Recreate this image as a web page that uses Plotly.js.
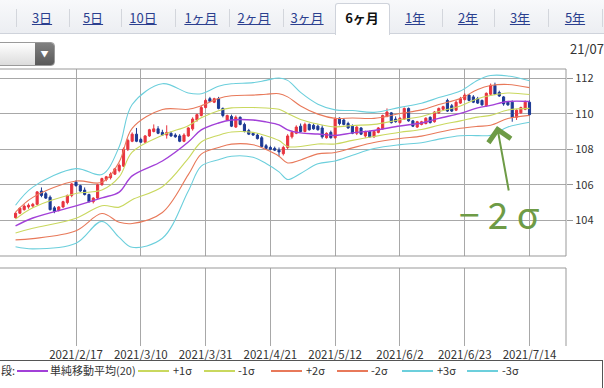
<!DOCTYPE html>
<html><head><meta charset="utf-8">
<script src="https://cdn.plot.ly/plotly-3.0.1.min.js"></script>
<style>
body{margin:0;width:604px;height:388px;overflow:hidden;background:#fff;font-family:"Noto Sans CJK JP","Noto Sans",sans-serif;}
#chart{position:absolute;left:0;top:0;width:604px;height:388px;z-index:1}
#tabbar{position:absolute;left:0;top:0;width:604px;height:33px;background:linear-gradient(#f8f9fb,#eceef2);border-bottom:1px solid #cfd3db;z-index:2}
.tab{position:absolute;top:8px;font-size:13px;color:#2b3f8f;text-decoration:underline;text-align:center;width:60px;line-height:20px;white-space:nowrap}
.sep{position:absolute;top:9px;width:1px;height:18px;background:#d3d6dc}
#active{position:absolute;left:335px;top:3px;width:53px;height:31px;background:#fff;border:1px solid #cfd3db;border-bottom:none;border-radius:3px 3px 0 0}
#dd{position:absolute;left:-6px;top:42px;width:59px;height:22px;border:1px solid #9a9a9a;border-radius:4px;background:linear-gradient(#ffffff,#dcdcdc);z-index:2;overflow:hidden}
#ddbtn{position:absolute;right:0;top:0;width:19px;height:22px;background:linear-gradient(#808080,#595959);color:#fff;font-size:8px;text-align:center;line-height:22px}
#yr{position:absolute;left:570px;top:39px;font-size:13px;color:#333;z-index:2}
#legend{position:absolute;left:-1px;top:360px;width:602px;height:40px;border:1px solid #555;z-index:2;font-size:11px;color:#333}
.lg{position:absolute;top:2px;white-space:nowrap;line-height:14px}
.ll{position:absolute;top:9px;height:1.5px}
</style></head>
<body>
<div id="chart"></div>
<div id="tabbar"></div>
<div id="dd"><div id="ddbtn">▼</div></div>
<div id="yr">21/07</div>
<div id="legend"></div>
<script>
// ---- data ----
const dates = ["2021/1/28","2021/1/29",
"2021/2/1","2021/2/2","2021/2/3","2021/2/4","2021/2/5","2021/2/8","2021/2/9","2021/2/10","2021/2/11","2021/2/12",
"2021/2/15","2021/2/16","2021/2/17","2021/2/18","2021/2/19","2021/2/22","2021/2/23","2021/2/24","2021/2/25","2021/2/26",
"2021/3/1","2021/3/2","2021/3/3","2021/3/4","2021/3/5","2021/3/8","2021/3/9","2021/3/10","2021/3/11","2021/3/12",
"2021/3/15","2021/3/16","2021/3/17","2021/3/18","2021/3/19","2021/3/22","2021/3/23","2021/3/24","2021/3/25","2021/3/26",
"2021/3/29","2021/3/30","2021/3/31","2021/4/1","2021/4/2","2021/4/5","2021/4/6","2021/4/7","2021/4/8","2021/4/9",
"2021/4/12","2021/4/13","2021/4/14","2021/4/15","2021/4/16","2021/4/19","2021/4/20","2021/4/21","2021/4/22","2021/4/23",
"2021/4/26","2021/4/27","2021/4/28","2021/4/29","2021/4/30","2021/5/3","2021/5/4","2021/5/5","2021/5/6","2021/5/7",
"2021/5/10","2021/5/11","2021/5/12","2021/5/13","2021/5/14","2021/5/17","2021/5/18","2021/5/19","2021/5/20","2021/5/21",
"2021/5/24","2021/5/25","2021/5/26","2021/5/27","2021/5/28","2021/5/31","2021/6/1","2021/6/2","2021/6/3","2021/6/4",
"2021/6/7","2021/6/8","2021/6/9","2021/6/10","2021/6/11","2021/6/14","2021/6/15","2021/6/16","2021/6/17","2021/6/18",
"2021/6/21","2021/6/22","2021/6/23","2021/6/24","2021/6/25","2021/6/28","2021/6/29","2021/6/30","2021/7/1","2021/7/2",
"2021/7/5","2021/7/6","2021/7/7","2021/7/8","2021/7/9","2021/7/12","2021/7/13","2021/7/14"];

const open = [104.15,104.40,104.60,104.75,104.80,104.90,105.65,105.50,105.30,104.70,104.55,104.75,105.00,105.40,106.15,105.95,105.70,105.45,105.05,105.25,
106.00,106.30,106.40,106.60,106.80,107.05,108.00,108.45,108.85,108.55,108.40,108.75,109.00,109.15,108.95,108.80,108.90,108.80,108.75,108.45,
108.75,109.15,109.65,109.90,110.35,110.85,110.65,110.85,110.30,109.65,109.85,109.25,109.80,109.40,109.05,108.90,108.80,108.65,108.20,108.10,
108.05,107.95,107.75,108.10,108.70,108.90,109.30,109.00,109.40,109.35,109.30,109.20,108.65,108.95,108.65,109.75,109.65,109.45,109.30,108.90,
109.20,108.75,109.00,108.70,108.95,109.15,109.85,110.05,109.70,109.50,109.70,110.30,109.60,109.25,109.40,109.45,109.80,109.55,110.05,110.25,
110.75,110.45,110.20,110.60,110.80,111.05,110.95,110.85,110.75,110.45,111.10,111.60,111.20,110.95,110.65,110.65,109.80,110.05,110.25,110.65];
const high = [104.45,104.72,104.90,104.95,104.98,105.65,105.85,105.60,105.40,104.80,104.80,105.10,105.45,106.10,106.25,106.00,105.85,105.50,105.30,106.05,
106.40,106.50,106.70,106.95,107.20,108.10,108.60,108.95,109.20,108.65,108.80,109.15,109.40,109.30,109.10,109.35,109.00,108.90,108.85,108.90,
109.25,109.80,110.00,110.45,110.85,110.95,110.90,110.95,110.35,109.95,109.95,109.90,109.85,109.50,109.15,108.95,108.90,108.75,108.30,108.20,
108.15,108.10,108.20,108.85,109.05,109.35,109.45,109.50,109.45,109.45,109.40,109.35,108.95,109.05,109.80,109.80,109.75,109.55,109.40,109.30,
109.25,109.05,109.05,109.05,109.25,109.95,110.30,110.10,109.85,109.80,110.35,110.35,109.65,109.60,109.60,109.80,109.85,110.15,110.35,110.45,
110.85,110.55,110.75,110.95,111.15,111.10,111.05,110.95,110.80,111.20,111.70,111.75,111.30,111.00,110.70,110.75,110.25,110.40,110.75,110.75];
const low = [104.10,104.35,104.55,104.65,104.70,104.85,105.30,105.20,104.55,104.40,104.50,104.70,104.90,105.30,105.90,105.60,105.40,105.00,104.95,105.20,
105.95,106.20,106.30,106.55,106.70,107.00,107.90,108.40,108.40,108.35,108.35,108.70,108.95,108.85,108.75,108.60,108.70,108.65,108.40,108.40,
108.70,109.05,109.55,109.85,110.30,110.65,110.60,110.25,109.80,109.60,109.25,109.20,109.35,108.95,108.80,108.75,108.55,108.10,108.00,107.95,
107.90,107.60,107.65,108.00,108.60,108.85,108.95,108.95,109.05,109.10,109.05,108.60,108.60,108.60,108.60,109.35,109.35,109.15,108.85,108.80,
108.80,108.65,108.65,108.65,108.90,109.10,109.80,109.45,109.50,109.45,109.65,109.55,109.25,109.20,109.35,109.40,109.45,109.50,110.00,110.20,
110.10,110.10,110.15,110.55,110.75,110.70,110.60,110.55,110.45,110.40,111.05,111.05,110.95,110.45,110.45,109.55,109.65,110.00,110.20,109.90];
const close = [104.40,104.68,104.80,104.85,104.90,105.60,105.40,105.25,104.60,104.50,104.75,105.05,105.40,106.05,105.95,105.65,105.45,105.05,105.25,106.00,
106.35,106.45,106.60,106.90,107.10,108.00,108.50,108.85,108.45,108.40,108.75,109.10,109.15,108.90,108.80,108.95,108.75,108.70,108.45,108.80,
109.20,109.70,109.95,110.35,110.75,110.70,110.85,110.30,109.90,109.90,109.30,109.80,109.40,109.00,108.85,108.80,108.60,108.15,108.05,108.00,
107.95,107.85,108.10,108.75,108.95,109.25,109.00,109.40,109.10,109.15,109.10,108.70,108.90,108.65,109.70,109.45,109.40,109.20,108.90,109.25,
108.85,109.00,108.70,109.00,109.20,109.90,110.10,109.50,109.55,109.75,110.30,109.60,109.30,109.55,109.55,109.75,109.50,110.10,110.30,110.40,
110.15,110.15,110.65,110.85,111.05,110.75,110.65,110.60,110.50,111.15,111.60,111.10,111.00,110.55,110.50,109.80,110.20,110.35,110.65,109.95];

// Bollinger band readings (20-day SMA and sigma), read at these dates
const bandDates = ["2021/1/28","2021/2/3","2021/2/17","2021/2/25","2021/3/3","2021/3/8","2021/3/17","2021/3/25","2021/3/30","2021/4/5",
"2021/4/8","2021/4/15","2021/4/20","2021/4/23","2021/4/27","2021/4/30","2021/5/6","2021/5/12","2021/5/18","2021/5/25",
"2021/6/2","2021/6/9","2021/6/15","2021/6/22","2021/6/28","2021/7/1","2021/7/7","2021/7/14"];
const sma20 = [103.68,104.13,104.81,105.26,105.59,106.50,107.34,108.41,109.09,109.48,
109.65,109.65,109.54,109.37,109.09,108.92,108.86,108.78,108.92,109.06,
109.31,109.48,109.74,110.02,110.33,110.47,110.69,110.69];
const sigma = [0.39,0.58,0.70,0.44,0.85,1.34,1.45,0.92,0.68,0.69,
0.68,0.70,0.78,0.88,0.93,0.76,0.56,0.48,0.42,0.34,
0.35,0.37,0.39,0.42,0.52,0.56,0.48,0.39];

const tickDates = ["2021/2/17","2021/3/10","2021/3/31","2021/4/21","2021/5/12","2021/6/2","2021/6/23","2021/7/14"];
const yTicks = [104,106,108,110,112];
const bandNames = ["単純移動平均(20)","+1σ","-1σ","+2σ","-2σ","+3σ","-3σ"];
const bandMult = [0,1,-1,2,-2,3,-3];
const bandColors = ["#a240d8","#c9d85e","#c9d85e","#e8795a","#e8795a","#6ccfdc","#6ccfdc"];
const tabLabels = ["3日","5日","10日","1ヶ月","2ヶ月","3ヶ月","6ヶ月","1年","2年","3年","5年"];
const activeTab = "6ヶ月";

// ---- tabs ----
const tabCenters=[42,93,143,201,254,307,362,415,468,520,575];
const sepX=[16,69,121,175,229,283,442,494,548,602];
const bar=document.getElementById('tabbar');
let h='<div id="active"></div>';
sepX.forEach(x=>{h+=`<div class="sep" style="left:${x}px"></div>`;});
tabLabels.forEach((t,i)=>{
  const act = t===activeTab;
  h+=`<div class="tab" style="left:${tabCenters[i]-30}px;${act?'color:#111;font-weight:bold;text-decoration:none;':''}">${t}</div>`;
});
bar.innerHTML=h;

// ---- legend ----
const lgEl=document.getElementById('legend');
const lineX=[17,138,204,271,337,402,467];
const textX=[50,173,238,306,371,437,502];
let lh='<div class="lg" style="left:1px">段:</div>';
bandNames.forEach((n,i)=>{
  lh+=`<div class="ll" style="left:${lineX[i]}px;width:31px;background:${bandColors[i]}"></div>`;
  lh+=`<div class="lg" style="left:${textX[i]}px">${n}</div>`;
});
lgEl.innerHTML=lh;

// ---- plot ----
const traces=[];
bandMult.forEach((k,j)=>{
  traces.push({type:'scatter',mode:'lines',x:bandDates,y:sma20.map((m,i)=>m+k*sigma[i]),
    line:{color:bandColors[j],width:j===0?1.4:1.1,shape:'spline',smoothing:1.0},hoverinfo:'skip',name:bandNames[j],xaxis:'x',yaxis:'y'});
});
traces.push({type:'candlestick',x:dates,open:open,high:high,low:low,close:close,xaxis:'x',yaxis:'y',
  increasing:{line:{color:'#e8343f',width:1},fillcolor:'#e8343f'},
  decreasing:{line:{color:'#1d3a94',width:1},fillcolor:'#1d3a94'},whiskerwidth:0,hoverinfo:'skip'});
traces.push({type:'scatter',mode:'markers',x:[],y:[],xaxis:'x',yaxis:'y2',hoverinfo:'skip'});

const W=604,H=388;
const plotR=566;
const mainTop=69, mainBot=256, lowTop=268, lowBot=346;
const gcol='#a8a8a8';
const layout={
  width:W,height:H,margin:{l:0,r:W-plotR,t:0,b:0},
  paper_bgcolor:'rgba(0,0,0,0)',plot_bgcolor:'#fff',showlegend:false,
  font:{family:'"Noto Sans CJK JP","Noto Sans",sans-serif',size:10,color:'#333'},
  xaxis:{type:'category',categoryorder:'array',categoryarray:dates,range:[-3.6,127.45],anchor:'y2',
    tickmode:'array',tickvals:tickDates,ticktext:tickDates,showgrid:true,gridcolor:gcol,gridwidth:1,
    ticks:'',tickfont:{size:11.5,color:'#333'},rangeslider:{visible:false},showline:false,zeroline:false,fixedrange:true},
  yaxis:{domain:[1-mainBot/H,1-mainTop/H],range:[101.99,112.52],side:'right',tickmode:'array',tickvals:yTicks,
    ticks:'outside',ticklen:6,tickcolor:'#999',gridcolor:gcol,showline:false,zeroline:false,
    tickfont:{size:11,color:'#333'},fixedrange:true},
  yaxis2:{domain:[1-lowBot/H,1-lowTop/H],range:[0,1],showticklabels:false,showgrid:false,zeroline:false,fixedrange:true},
  shapes:[
    {type:'line',xref:'paper',yref:'paper',x0:0,x1:1,y0:1-mainTop/H,y1:1-mainTop/H,line:{color:'#999',width:1}},
    {type:'line',xref:'paper',yref:'paper',x0:0,x1:1,y0:1-mainBot/H,y1:1-mainBot/H,line:{color:'#999',width:1}},
    {type:'line',xref:'paper',yref:'paper',x0:1,x1:1,y0:1-mainBot/H,y1:1-mainTop/H,line:{color:'#999',width:1}},
    {type:'line',xref:'paper',yref:'paper',x0:0,x1:1,y0:1-lowTop/H,y1:1-lowTop/H,line:{color:'#999',width:1}},
    {type:'line',xref:'paper',yref:'paper',x0:1,x1:1,y0:1-lowBot/H,y1:1-lowTop/H,line:{color:'#999',width:1}}
  ],
  annotations:[
    {xref:'paper',yref:'paper',x:497/plotR,y:1-126/H,text:'',showarrow:true,ax:12,ay:66,
      arrowhead:4,arrowsize:2.2,arrowwidth:2,arrowcolor:'#6e9b46'},
    {xref:'paper',yref:'paper',x:499/plotR,y:1-213/H,text:'− 2 σ',showarrow:false,
      font:{size:37,color:'#6e9b46',family:'"Noto Sans CJK JP","Noto Sans",sans-serif'},xanchor:'center',yanchor:'middle'}
  ]
};
Plotly.newPlot('chart',traces,layout,{displayModeBar:false,staticPlot:true});
</script>
</body></html>
